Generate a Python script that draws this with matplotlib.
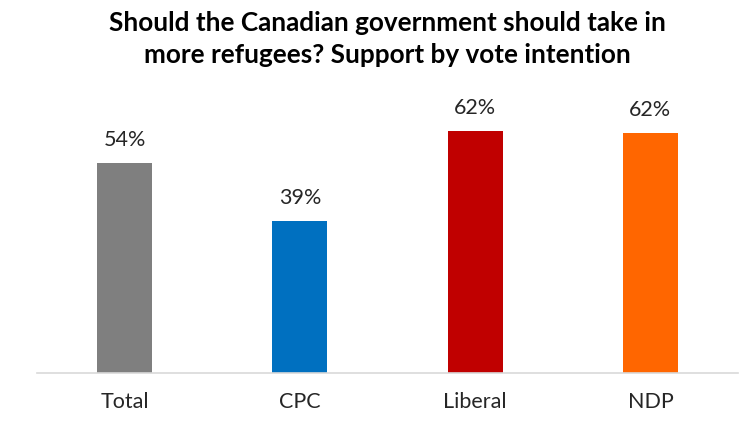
import matplotlib
matplotlib.use("Agg")
import matplotlib.pyplot as plt

categories = ["Total", "CPC", "Liberal", "NDP"]
values = [54, 39, 62.4, 61.8]
labels = ["54%", "39%", "62%", "62%"]
colors = ["#7f7f7f", "#0070c0", "#c00000", "#ff6600"]

plt.rcParams['font.family'] = ['Lato', 'DejaVu Sans']

fig = plt.figure(figsize=(7.5, 4.31), dpi=100)
ax = fig.add_axes([37/750, 57/431, 701/750, 272/431])
x = range(len(categories))
bars = ax.bar(x, values, width=0.314, color=colors)
for xi, v, lab in zip(x, values, labels):
    ax.text(xi, v + 3.6, lab, ha='center', va='bottom', fontsize=15.5, color='#262626')
ax.set_xlim(-0.5, 3.5)
ax.set_ylim(0, 70)
ax.set_xticks(list(x))
ax.set_xticklabels(categories, fontsize=15.5, color='#262626')
ax.tick_params(axis='x', length=0, pad=13)
ax.set_yticks([])
for s in ['top', 'right', 'left']:
    ax.spines[s].set_visible(False)
ax.spines['bottom'].set_color('#d9d9d9')
ax.spines['bottom'].set_linewidth(1.2)
fig.text(387/750, 1 - 39/431, "Should the Canadian government should take in\nmore refugees? Support by vote intention",
         ha='center', va='center', fontsize=18.8, fontweight='bold', color='#000000', linespacing=1.36)
fig.savefig("out.png", dpi=100)
